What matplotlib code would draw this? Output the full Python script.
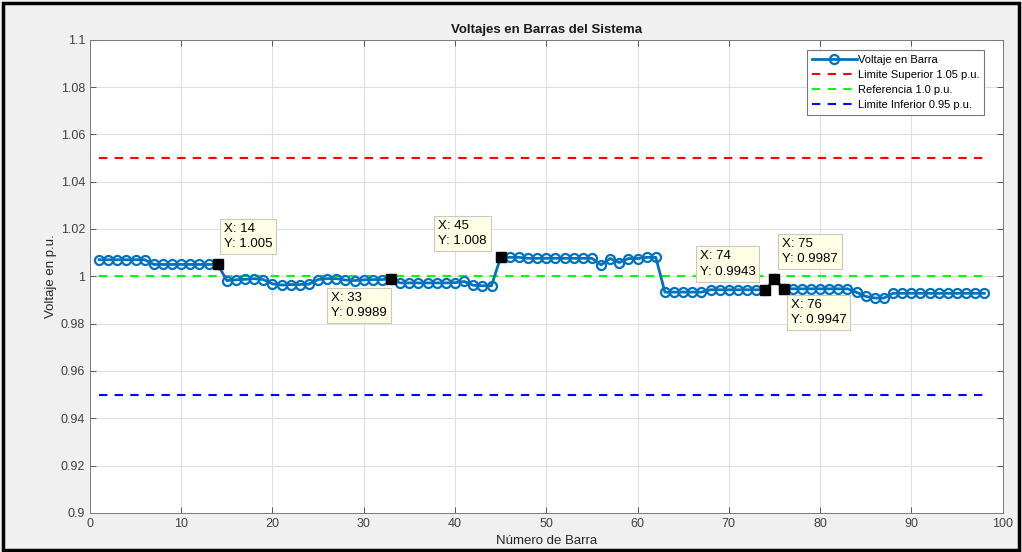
import numpy as np
import matplotlib
matplotlib.use("Agg")
import matplotlib.pyplot as plt
from matplotlib.patches import Rectangle

plt.rcParams['font.family'] = ['Liberation Sans Narrow', 'Liberation Sans', 'DejaVu Sans']

# ── Data ──
barras = list(range(1, 99))
voltajes = [
    1.007, 1.007, 1.007, 1.007, 1.007, 1.007,                      # 1-6
    1.005, 1.005, 1.005, 1.005, 1.005, 1.005, 1.005, 1.005,         # 7-14
    0.9982, 0.9985, 0.9987, 0.999, 0.9986,                          # 15-19
    0.9968, 0.9963, 0.9965, 0.9965, 0.9967,                         # 20-24
    0.9986, 0.999, 0.999, 0.9984,                                   # 25-28
    0.9982, 0.9985, 0.9986, 0.9986, 0.9989,                         # 29-33
    0.9972, 0.9972, 0.9972, 0.9972, 0.9972, 0.9972, 0.9973,         # 34-40
    0.9978, 0.9962, 0.996, 0.996,                                   # 41-44
    1.008, 1.008, 1.008,                                            # 45-47
    1.0076, 1.0076, 1.0076, 1.0076, 1.0076, 1.0076, 1.0076, 1.0076, # 48-55
    1.0048, 1.0075, 1.0058, 1.0075, 1.0075, 1.008, 1.008,           # 56-62
    0.9933, 0.9933, 0.9933, 0.9933, 0.9933,                         # 63-67
    0.9943, 0.9943, 0.9943, 0.9943, 0.9943, 0.9943, 0.9943,         # 68-74
    0.9987, 0.9947,                                                 # 75-76
    0.9947, 0.9947, 0.9947, 0.9947, 0.9947, 0.9947, 0.9947,         # 77-83
    0.9932, 0.9915, 0.9908, 0.9908,                                 # 84-87
    0.9928, 0.9928, 0.9928, 0.9928, 0.9928, 0.9928, 0.9928, 0.9928,
    0.9928, 0.9928, 0.9928,                                         # 88-98
]
lim_sup = 1.05
referencia = 1.0
lim_inf = 0.95

# data tips
tips_barra = [14, 33, 45, 74, 75, 76]
tips_texto = ["X: 14\nY: 1.005", "X: 33\nY: 0.9989", "X: 45\nY: 1.008",
              "X: 74\nY: 0.9943", "X: 75\nY: 0.9987", "X: 76\nY: 0.9947"]

fig = plt.figure(figsize=(10.22, 5.52), dpi=100, facecolor='#F0F0F0')
ax = fig.add_axes([0.088, 0.071, 0.893, 0.857])
ax.set_facecolor('white')

x0, x1 = barras[0], barras[-1]
ax.plot(barras, voltajes, '-o', color='#0072BD', lw=2, ms=6.5, mfc='none',
        mew=1.6, label='Voltaje en Barra', zorder=4)
ax.plot([x0, x1], [lim_sup, lim_sup], '--', color='#FF0000', lw=1.5,
        dashes=(4, 3.5), label='Limite Superior 1.05 p.u.', zorder=3)
ax.plot([x0, x1], [referencia, referencia], '--', color='#00FF00', lw=1.5,
        dashes=(4, 3.5), label='Referencia 1.0 p.u.', zorder=3)
ax.plot([x0, x1], [lim_inf, lim_inf], '--', color='#0000FF', lw=1.5,
        dashes=(4, 3.5), label='Limite Inferior 0.95 p.u.', zorder=3)

# ── Data tips ──
offsets = [(6, 14, 'left', 'bottom'), (-4, -13, 'right', 'top'),
           (-14, 10, 'right', 'bottom'), (-10, 12, 'right', 'bottom'),
           (8, 14, 'left', 'bottom'), (7, -10, 'left', 'top')]
for b, txt, (dx, dy, ha, va) in zip(tips_barra, tips_texto, offsets):
    yv = voltajes[b - 1]
    ax.plot([b], [yv], 's', color='black', ms=7, zorder=6)
    ax.annotate(txt, xy=(b, yv), xytext=(dx, dy), textcoords='offset pixels',
                ha=ha, va=va, multialignment='left', fontsize=9.5,
                linespacing=1.4, zorder=7,
                bbox=dict(boxstyle='square,pad=0.3', fc='#FFFFE6',
                          ec='#C8C8C8', lw=0.8))

# ── Axes styling ──
ax.set_xlim(0, 100)
ax.set_ylim(0.9, 1.1)
ax.set_xticks(np.arange(0, 101, 10))
ax.set_yticks(np.arange(0.9, 1.1001, 0.02))
ax.set_yticklabels(['0.9', '0.92', '0.94', '0.96', '0.98', '1', '1.02',
                    '1.04', '1.06', '1.08', '1.1'])
ax.grid(True, color='#E0E0E0', lw=0.8)
ax.set_axisbelow(True)
ax.tick_params(direction='in', top=True, right=True, labelsize=9,
               colors='#404040', length=4, width=0.6)
for s in ax.spines.values():
    s.set_color('#7A7A7A')
    s.set_linewidth(0.7)

ax.set_title("Voltajes en Barras del Sistema", fontsize=9.5,
             fontweight='bold', color='#1A1A1A', pad=5)
ax.set_xlabel("Número de Barra", fontsize=9.5, color='#262626', labelpad=4)
ax.set_ylabel("Voltaje en p.u.", fontsize=9.5, color='#262626', labelpad=3)

leg = ax.legend(loc='upper right', bbox_to_anchor=(0.980, 0.979),
                borderaxespad=0, fontsize=8, handlelength=4.0,
                handletextpad=0.1, labelspacing=0.45, borderpad=0.45,
                fancybox=False, framealpha=1, edgecolor='#777777')
leg.get_frame().set_linewidth(0.8)

# outer frame
fig.patches.append(Rectangle((0.003, 0.003), 0.994, 0.992, transform=fig.transFigure,
                             fill=False, ec='black', lw=2.5))

fig.savefig("out.png", dpi=100, facecolor=fig.get_facecolor())
